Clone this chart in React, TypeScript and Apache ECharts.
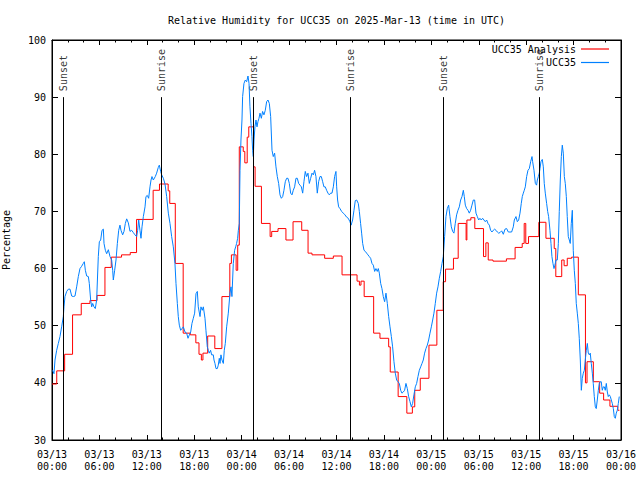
import React, { useEffect, useRef } from 'react';
import * as echarts from 'echarts';

const titleText = 'Relative Humidity for UCC35 on 2025-Mar-13 (time in UTC)';
const yAxisName = 'Percentage';
const seriesNames = ['UCC35 Analysis', 'UCC35'];
const monthLabel = '03';
const startDay = 13;
const xMinHours = 0;
const xMaxHours = 72;
const xTickHours = 6;
const yMin = 30;
const yMax = 100;
const yTick = 10;

// [hours since 03/13 00:00 UTC, percent]
const analysisData: number[][] = [
  [0.0, 39.8], [0.6, 42.1], [1.6, 45.0], [2.6, 51.9], [3.7, 53.9], [4.8, 54.4], [5.7, 55.3],
  [6.7, 60.2], [7.5, 62.0], [8.8, 62.4], [9.9, 62.8], [10.7, 68.6], [12.8, 73.7], [13.6, 74.8],
  [14.7, 73.6], [14.9, 71.4], [15.6, 60.9], [16.6, 48.7], [17.5, 48.4], [18.2, 47.0], [18.6, 45.0],
  [18.9, 44.0], [19.1, 45.2], [19.7, 48.2], [20.6, 46.0], [21.5, 55.1], [22.5, 60.9], [22.7, 62.4],
  [23.3, 59.7], [23.5, 64.1], [23.7, 81.3], [24.2, 80.5], [24.4, 78.5], [24.7, 83.0], [24.9, 84.8],
  [25.5, 77.8], [25.7, 74.4], [26.5, 67.9], [27.6, 65.6], [27.8, 66.5], [28.6, 67.0], [29.6, 65.0],
  [30.5, 68.2], [31.6, 66.7], [32.4, 62.7], [32.9, 62.4], [34.5, 61.8], [35.6, 62.2], [36.7, 58.9],
  [38.6, 57.8], [38.9, 57.1], [39.1, 57.8], [39.5, 55.1], [40.7, 48.7], [41.5, 47.8], [42.6, 46.3],
  [42.8, 41.9], [43.8, 37.6], [44.9, 34.7], [45.6, 35.8], [45.9, 38.7], [46.6, 40.8], [47.7, 46.6],
  [48.7, 52.7], [49.5, 57.7], [49.8, 59.9], [50.8, 61.8], [51.4, 67.9], [52.4, 65.0], [52.5, 68.5],
  [53.0, 68.9], [53.5, 67.0], [54.6, 62.1], [54.9, 64.5], [55.2, 61.5], [55.8, 61.3], [57.5, 61.7],
  [58.6, 63.7], [59.5, 64.4], [59.75, 67.9], [59.95, 64.4], [60.3, 65.6], [61.6, 68.1], [62.5, 65.3],
  [63.55, 63.5], [63.75, 58.6], [64.5, 61.5], [64.8, 60.5], [65.2, 61.8], [65.75, 62.0], [66.6, 55.4],
  [67.5, 40.0], [67.7, 43.7], [68.5, 40.2], [69.3, 38.2], [69.8, 37.0], [70.6, 35.9], [71.6, 35.2],
  [71.8, 35.2],
];

const stationData: number[][] = [
  [0.08, 42.2], [0.25, 41.6], [0.38, 44.0], [0.59, 45.7], [0.8, 46.9], [1.01, 48.1], [1.22, 49.8],
  [1.43, 51.6], [1.52, 53.3], [1.64, 55.1], [1.86, 56.0], [2.07, 56.4], [2.28, 56.4], [2.49, 55.2],
  [2.7, 55.1], [2.91, 55.2], [3.12, 56.8], [3.33, 58.6], [3.54, 60.0], [3.75, 60.4], [3.96, 60.9],
  [4.09, 61.2], [4.22, 59.7], [4.39, 58.7], [4.6, 58.6], [4.72, 57.4], [4.89, 54.5], [5.02, 53.3],
  [5.15, 53.9], [5.31, 53.3], [5.48, 53.0], [5.65, 54.5], [5.86, 62.1], [5.99, 64.7], [6.16, 65.0],
  [6.33, 66.7], [6.5, 66.9], [6.58, 64.4], [6.75, 63.2], [6.92, 62.6], [7.13, 63.3], [7.34, 62.1],
  [7.55, 61.5], [7.68, 59.7], [7.76, 58.0], [7.93, 59.7], [8.1, 61.5], [8.27, 64.4], [8.44, 66.7],
  [8.6, 67.6], [8.73, 66.7], [8.94, 65.9], [9.11, 66.5], [9.28, 67.9], [9.45, 68.7], [9.66, 68.0],
  [9.87, 66.5], [10.08, 66.7], [10.29, 66.3], [10.5, 65.9], [10.71, 65.6], [10.84, 66.7], [10.97, 68.5],
  [11.13, 66.7], [11.26, 65.3], [11.39, 67.3], [11.56, 69.1], [11.77, 70.8], [11.89, 72.6], [12.06, 72.8],
  [12.23, 72.3], [12.4, 74.3], [12.53, 75.5], [12.65, 76.1], [12.82, 75.5], [13.07, 76.1], [13.24, 76.7],
  [13.45, 77.7], [13.58, 78.1], [13.75, 77.0], [13.88, 76.4], [14.09, 75.8], [14.3, 74.8], [14.51, 72.6],
  [14.72, 69.7], [14.93, 67.9], [15.14, 65.6], [15.35, 63.8], [15.56, 60.9], [15.69, 57.4], [15.86, 53.9],
  [15.98, 51.6], [16.11, 50.1], [16.28, 49.2], [16.45, 49.5], [16.62, 49.8], [16.83, 48.9], [17.04, 48.7],
  [17.21, 47.8], [17.38, 48.4], [17.55, 48.9], [17.71, 50.4], [17.88, 51.3], [18.05, 52.2], [18.22, 55.6],
  [18.39, 56.0], [18.51, 53.3], [18.73, 51.6], [18.85, 53.3], [19.02, 52.7], [19.15, 53.3], [19.36, 51.3],
  [19.48, 49.2], [19.65, 46.3], [19.78, 45.7], [19.9, 45.2], [20.07, 45.7], [20.2, 44.9], [20.41, 44.9],
  [20.5, 44.0], [20.62, 43.4], [20.75, 42.5], [20.92, 42.5], [21.04, 43.1], [21.17, 44.3], [21.26, 43.4],
  [21.38, 44.9], [21.51, 44.0], [21.68, 43.4], [21.8, 45.7], [21.93, 46.9], [22.1, 49.8], [22.31, 52.2],
  [22.52, 55.7], [22.65, 56.8], [22.77, 55.1], [22.94, 60.9], [23.11, 63.2], [23.24, 63.8], [23.36, 64.4],
  [23.49, 65.3], [23.58, 66.7], [23.7, 67.9], [23.79, 77.2], [23.91, 82.5], [24.04, 86.0], [24.12, 90.1],
  [24.29, 92.4], [24.46, 93.0], [24.63, 92.7], [24.8, 93.7], [24.93, 92.4], [25.05, 88.3], [25.18, 85.4],
  [25.3, 83.1], [25.39, 80.7], [25.47, 79.6], [25.56, 82.5], [25.68, 84.8], [25.81, 86.0], [25.94, 84.8],
  [26.06, 85.7], [26.19, 86.3], [26.32, 87.2], [26.49, 86.3], [26.65, 87.5], [26.82, 86.9], [26.99, 87.7],
  [27.16, 89.2], [27.33, 89.5], [27.5, 88.9], [27.67, 86.6], [27.84, 80.7], [28.0, 79.6], [28.17, 80.2],
  [28.34, 77.8], [28.51, 76.1], [28.68, 74.9], [28.85, 72.9], [29.02, 72.3], [29.19, 72.6], [29.35, 73.7],
  [29.52, 75.2], [29.69, 75.8], [29.86, 75.8], [30.03, 74.9], [30.2, 73.2], [30.37, 72.9], [30.53, 73.7],
  [30.7, 74.3], [30.87, 75.8], [31.04, 75.8], [31.21, 74.9], [31.38, 74.6], [31.55, 74.3], [31.72, 73.2],
  [31.88, 75.2], [32.05, 77.0], [32.22, 76.1], [32.39, 76.7], [32.56, 74.9], [32.73, 75.8], [32.9, 76.7],
  [33.07, 76.4], [33.23, 77.2], [33.4, 76.1], [33.57, 73.2], [33.74, 75.2], [33.91, 76.1], [34.08, 76.1],
  [34.25, 75.2], [34.41, 74.3], [34.58, 74.3], [34.75, 73.7], [34.92, 73.2], [35.09, 72.9], [35.26, 73.2],
  [35.43, 73.2], [35.6, 74.3], [35.76, 76.1], [35.93, 77.0], [36.02, 74.3], [36.14, 72.0], [36.27, 70.8],
  [36.44, 70.5], [36.65, 70.0], [36.86, 69.7], [37.07, 69.4], [37.28, 69.0], [37.49, 68.8], [37.7, 68.2],
  [37.85, 67.6], [38.04, 68.5], [38.21, 70.2], [38.38, 71.9], [38.55, 72.0], [38.76, 71.4], [38.89, 70.0],
  [39.05, 67.9], [39.18, 66.2], [39.31, 64.4], [39.48, 63.2], [39.65, 63.0], [39.81, 62.7], [39.98, 62.4],
  [40.15, 62.1], [40.32, 61.8], [40.49, 60.9], [40.66, 60.6], [40.83, 59.5], [40.99, 60.0], [41.16, 59.5],
  [41.29, 60.0], [41.42, 59.2], [41.59, 57.4], [41.75, 56.5], [41.92, 55.1], [42.09, 54.2], [42.26, 55.7],
  [42.43, 53.9], [42.6, 51.6], [42.77, 49.8], [42.94, 48.1], [43.1, 46.3], [43.27, 43.7], [43.44, 41.7],
  [43.61, 40.5], [43.78, 40.2], [43.95, 39.9], [44.12, 38.7], [44.28, 38.2], [44.45, 38.4], [44.62, 38.7],
  [44.79, 39.9], [44.96, 39.0], [45.13, 37.6], [45.3, 36.7], [45.47, 35.8], [45.63, 36.4], [45.8, 37.9],
  [45.97, 39.3], [46.14, 39.9], [46.31, 41.1], [46.48, 42.2], [46.65, 42.8], [46.82, 43.4], [46.98, 44.0],
  [47.15, 45.2], [47.32, 46.0], [47.49, 46.6], [47.66, 47.5], [47.83, 48.7], [48.0, 49.8], [48.17, 51.0],
  [48.33, 52.2], [48.5, 53.9], [48.67, 55.7], [48.84, 56.8], [49.01, 58.3], [49.18, 59.5], [49.35, 60.9],
  [49.51, 62.1], [49.68, 65.6], [49.85, 69.1], [50.02, 70.5], [50.19, 71.1], [50.36, 69.1], [50.53, 67.3],
  [50.7, 66.5], [50.86, 66.2], [51.03, 67.9], [51.2, 69.4], [51.37, 70.2], [51.54, 70.8], [51.71, 72.0],
  [51.88, 72.6], [52.05, 73.7], [52.17, 72.6], [52.3, 71.1], [52.47, 70.5], [52.64, 70.2], [52.8, 69.7],
  [52.97, 70.2], [53.14, 71.1], [53.31, 72.0], [53.48, 72.0], [53.65, 69.7], [53.82, 69.1], [53.99, 68.5],
  [54.15, 68.8], [54.32, 68.5], [54.49, 68.8], [54.66, 68.5], [54.83, 68.2], [55.0, 68.5], [55.17, 67.9],
  [55.34, 67.6], [55.5, 66.7], [55.67, 66.4], [55.84, 66.7], [56.01, 66.9], [56.18, 66.7], [56.35, 66.4],
  [56.52, 66.2], [56.69, 66.3], [56.9, 66.6], [57.11, 66.0], [57.32, 66.9], [57.53, 67.0], [57.74, 66.4],
  [57.95, 66.4], [58.16, 66.4], [58.37, 67.3], [58.5, 68.5], [58.71, 69.1], [58.88, 68.2], [59.05, 68.5],
  [59.22, 69.7], [59.38, 71.4], [59.51, 72.6], [59.64, 73.2], [59.76, 73.7], [59.89, 74.3], [60.06, 76.1],
  [60.23, 77.2], [60.4, 77.5], [60.57, 78.7], [60.74, 79.6], [60.82, 78.7], [60.99, 77.2], [61.16, 74.9],
  [61.32, 74.6], [61.41, 75.5], [61.54, 76.1], [61.66, 76.7], [61.75, 77.5], [61.87, 78.7], [62.04, 79.1],
  [62.17, 77.8], [62.29, 74.9], [62.42, 73.2], [62.59, 71.4], [62.72, 70.0], [62.84, 69.1], [63.01, 66.7],
  [63.14, 64.4], [63.26, 62.1], [63.39, 60.9], [63.52, 60.0], [63.64, 60.6], [63.77, 61.5], [63.94, 61.5],
  [64.07, 64.4], [64.19, 70.0], [64.32, 75.5], [64.45, 79.6], [64.57, 81.6], [64.7, 80.2], [64.83, 76.1],
  [64.95, 74.9], [65.08, 72.6], [65.2, 69.1], [65.33, 65.6], [65.46, 65.0], [65.58, 64.4], [65.71, 67.9],
  [65.84, 70.2], [65.96, 63.2], [66.09, 59.7], [66.22, 57.4], [66.34, 53.9], [66.47, 52.2], [66.6, 50.4],
  [66.72, 47.8], [66.85, 44.0], [66.98, 38.7], [67.1, 40.8], [67.23, 41.7], [67.36, 42.2], [67.48, 44.0],
  [67.61, 45.7], [67.74, 46.9], [67.86, 45.2], [67.99, 44.9], [68.11, 45.2], [68.24, 43.4], [68.37, 41.7],
  [68.49, 39.9], [68.62, 37.6], [68.75, 35.8], [68.87, 35.5], [69.0, 37.0], [69.13, 38.7], [69.25, 39.9],
  [69.38, 40.2], [69.5, 40.2], [69.63, 38.7], [69.76, 39.3], [69.89, 39.3], [70.01, 38.7], [70.14, 39.9],
  [70.27, 38.4], [70.39, 37.6], [70.52, 37.9], [70.65, 37.6], [70.77, 37.0], [70.9, 36.4], [71.03, 35.5],
  [71.15, 34.1], [71.28, 33.8], [71.4, 34.7], [71.53, 35.2], [71.66, 36.4], [71.78, 37.6],
];

const eventHours = [1.41, 13.86, 25.45, 37.76, 49.53, 61.64];
const eventNames = ['Sunset', 'Sunrise', 'Sunset', 'Sunrise', 'Sunset', 'Sunrise'];
const eventTopValue = 90;

const FONT = '"DejaVu Sans Mono", "Liberation Mono", monospace';

function formatHour(h: number): string {
  const day = startDay + Math.floor(h / 24);
  const hh = Math.round(h % 24);
  return `${monthLabel}/${day}\n${String(hh).padStart(2, '0')}:00`;
}

const tickCommon = {
  axisLine: { show: true, onZero: false, lineStyle: { color: '#000', width: 1 } },
  splitLine: { show: false },
  minorSplitLine: { show: false },
};

export default function App() {
  const ref = useRef<HTMLDivElement>(null);
  useEffect(() => {
    if (!ref.current) return;
    const chart = echarts.init(ref.current, null, { renderer: 'svg' });
    const xTicks = {
      axisTick: { show: true, inside: true, length: 5, lineStyle: { color: '#000', width: 1 } },
      minorTick: { show: true, splitNumber: 3, length: 2.5, lineStyle: { color: '#000', width: 1 } },
    };
    const yTicks = {
      axisTick: { show: true, inside: true, length: 6, lineStyle: { color: '#000', width: 1 } },
    };
    chart.setOption({
      animation: false,
      backgroundColor: '#ffffff',
      textStyle: { fontFamily: FONT },
      title: {
        text: titleText,
        left: 331.5,
        textAlign: 'center',
        top: 10,
        padding: 5,
        textStyle: { fontSize: 10, fontWeight: 'normal', color: '#000', fontFamily: FONT },
      },
      legend: {
        data: seriesNames,
        orient: 'vertical',
        right: 31,
        top: 43,
        align: 'right',
        icon: 'rect',
        itemWidth: 28,
        itemHeight: 1.2,
        itemGap: 1.5,
        padding: 0,
        selectedMode: false,
        textStyle: { fontSize: 10, color: '#000', fontFamily: FONT, lineHeight: 12 },
      },
      grid: {
        left: 52, right: 19, top: 40, bottom: 40,
        containLabel: false, outerBoundsMode: 'none',
        show: true, borderColor: '#000', borderWidth: 1,
      },
      xAxis: [
        {
          type: 'value', min: xMinHours, max: xMaxHours, interval: xTickHours, position: 'bottom',
          ...tickCommon, ...xTicks,
          axisLabel: {
            formatter: formatHour, color: '#000', fontSize: 10, lineHeight: 12.5, margin: 8,
            fontFamily: FONT, showMinLabel: true, showMaxLabel: true,
          },
        },
        {
          type: 'value', min: xMinHours, max: xMaxHours, interval: xTickHours, position: 'top',
          ...tickCommon, ...xTicks, axisLabel: { show: false },
        },
      ],
      yAxis: [
        {
          type: 'value', min: yMin, max: yMax, interval: yTick, position: 'left',
          name: yAxisName, nameLocation: 'middle', nameGap: 41, nameRotate: 90,
          nameTextStyle: { fontSize: 10, color: '#000', fontFamily: FONT },
          ...tickCommon, ...yTicks,
          axisLabel: { color: '#000', fontSize: 10, margin: 6, fontFamily: FONT },
        },
        {
          type: 'value', min: yMin, max: yMax, interval: yTick, position: 'right',
          ...tickCommon, ...yTicks, axisLabel: { show: false },
        },
      ],
      series: [
        {
          name: seriesNames[0],
          type: 'line',
          step: 'end',
          data: analysisData,
          symbol: 'none',
          showSymbol: false,
          lineStyle: { color: '#ff0000', width: 1 },
          itemStyle: { color: '#ff0000' },
          emphasis: { disabled: true },
          z: 3,
        },
        {
          name: seriesNames[1],
          type: 'line',
          data: stationData,
          symbol: 'none',
          showSymbol: false,
          lineStyle: { color: '#0080ff', width: 1 },
          itemStyle: { color: '#0080ff' },
          emphasis: { disabled: true },
          z: 4,
        },
        {
          name: 'events',
          type: 'scatter',
          symbolSize: 0,
          silent: true,
          z: 2,
          data: eventHours.map((h, i) => ({ value: [h, eventTopValue], name: eventNames[i] })),
          label: {
            show: true,
            formatter: '{b}',
            position: 'top',
            distance: 6,
            rotate: 90,
            align: 'left',
            verticalAlign: 'middle',
            color: '#000',
            fontSize: 10,
            fontFamily: FONT,
          },
          markLine: {
            silent: true,
            symbol: ['none', 'none'],
            label: { show: false },
            lineStyle: { color: '#000', width: 1, type: 'solid' },
            emphasis: { disabled: true },
            data: eventHours.map((h) => [
              { coord: [h, eventTopValue] },
              { coord: [h, yMin] },
            ]),
          },
        },
      ],
    });
    return () => chart.dispose();
  }, []);
  return (
    <div
      ref={ref}
      style={{ position: 'absolute', left: 0, top: 0, width: 640, height: 480, background: '#fff' }}
    />
  );
}
